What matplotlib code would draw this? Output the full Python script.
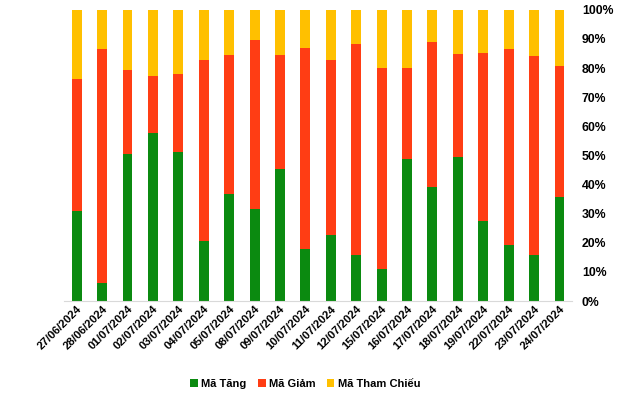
import numpy as np
import matplotlib.pyplot as plt
from matplotlib.ticker import FuncFormatter

plt.rcParams['font.family'] = ['Liberation Sans', 'DejaVu Sans']

dates = ['27/06/2024', '28/06/2024', '01/07/2024', '02/07/2024', '03/07/2024',
         '04/07/2024', '05/07/2024', '08/07/2024', '09/07/2024', '10/07/2024',
         '11/07/2024', '12/07/2024', '15/07/2024', '16/07/2024', '17/07/2024',
         '18/07/2024', '19/07/2024', '22/07/2024', '23/07/2024', '24/07/2024']
tang = [30.9, 6.2, 50.5, 57.7, 51.2, 20.6, 36.9, 31.6, 45.4, 17.9,
        22.7, 15.8, 11.0, 48.8, 39.2, 49.5, 27.5, 19.2, 15.8, 35.7]
# cumulative top of red segment
tang_giam = [76.3, 86.6, 79.4, 77.3, 78.0, 82.8, 84.5, 89.7, 84.5, 86.9,
             82.8, 88.3, 80.1, 80.1, 89.0, 84.9, 85.2, 86.6, 84.2, 80.8]

tang = np.array(tang)
giam = np.array(tang_giam) - tang
tham_chieu = 100 - np.array(tang_giam)

fig = plt.figure(figsize=(6.4, 3.94), dpi=100)
ax = fig.add_axes([0.1, 0.236, 0.794, 0.739])

x = np.arange(len(dates))
w = 0.39
ax.bar(x, tang, w, color='#0B8A10', label='Mã Tăng')
ax.bar(x, giam, w, bottom=tang, color='#FF3D14', label='Mã Giảm')
ax.bar(x, tham_chieu, w, bottom=tang + giam, color='#FFC000', label='Mã Tham Chiếu')

ax.set_xlim(-0.5, len(dates) - 0.5)
ax.set_ylim(0, 100)
ax.set_yticks(np.arange(0, 101, 10))
ax.yaxis.set_major_formatter(FuncFormatter(lambda v, p: '%d%%' % v))
ax.yaxis.tick_right()
ax.tick_params(axis='y', length=0, pad=7, labelsize=8.8)
ax.tick_params(axis='x', length=0, pad=2, labelsize=8.2)
for t in ax.get_yticklabels():
    t.set_fontweight('bold')
ax.set_xticks(x)
ax.set_xticklabels(dates, rotation=45, ha='right', rotation_mode='anchor', fontweight='bold')

for s in ['top', 'left', 'right']:
    ax.spines[s].set_visible(False)
ax.spines['bottom'].set_color('#D9D9D9')

leg = fig.legend(loc='center', bbox_to_anchor=(0.477, 0.025), ncol=3, frameon=False,
                 fontsize=8, handlelength=0.7, handleheight=0.7, handletextpad=0.3,
                 columnspacing=1.0)
for t in leg.get_texts():
    t.set_fontweight('bold')

fig.savefig('out.png', dpi=100)
